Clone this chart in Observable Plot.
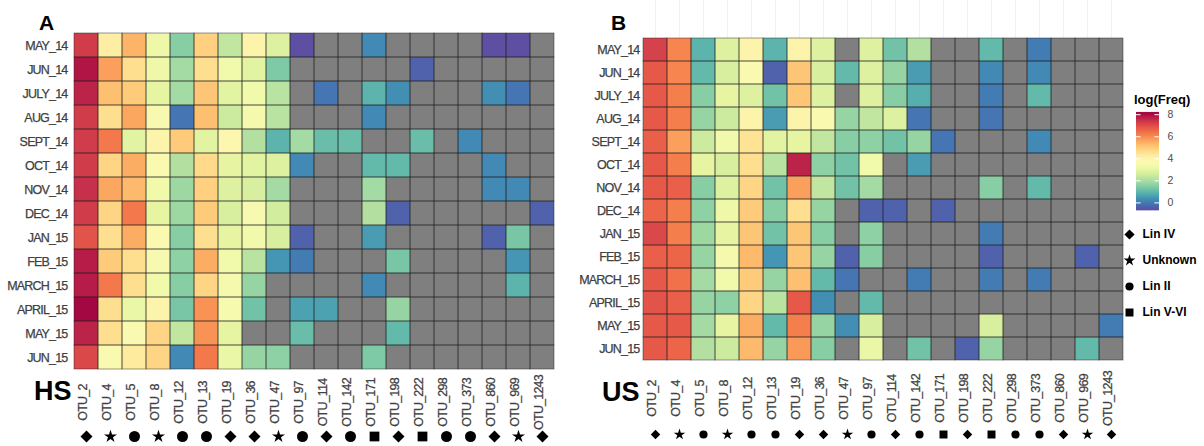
<!DOCTYPE html>
<html><head><meta charset="utf-8">
<script src="https://cdn.jsdelivr.net/npm/d3@7"></script>
<script src="https://cdn.jsdelivr.net/npm/@observablehq/plot@0.6"></script>
<style>
body{margin:0;background:#fff;font-family:"Liberation Sans",Arial,sans-serif;}
#wrap{position:relative;width:1204px;height:446px;overflow:hidden;background:#fff;}
.abs{position:absolute;line-height:1;white-space:nowrap;}
.big{font-weight:bold;color:#000;}
</style></head><body><div id="wrap"></div>
<script>
const months = ["MAY_14","JUN_14","JULY_14","AUG_14","SEPT_14","OCT_14","NOV_14","DEC_14","JAN_15","FEB_15","MARCH_15","APRIL_15","MAY_15","JUN_15"];
const otus = ["OTU_2","OTU_4","OTU_5","OTU_8","OTU_12","OTU_13","OTU_19","OTU_36","OTU_47","OTU_97","OTU_114","OTU_142","OTU_171","OTU_198","OTU_222","OTU_298","OTU_373","OTU_860","OTU_969","OTU_1243"];
const lineage = ["Lin IV","Unknown","Lin II","Unknown","Lin II","Lin II","Lin IV","Lin IV","Unknown","Lin II","Lin IV","Lin II","Lin V-VI","Lin IV","Lin V-VI","Lin II","Lin II","Lin IV","Unknown","Lin IV"];
const lineageOrder = ["Lin IV","Unknown","Lin II","Lin V-VI"];
const legendTicks = [0, 2, 4, 6, 8];

// log(Freq) per month (rows) x OTU (columns); null = absent (grey)
const hsValues = [
  [7.4,4.3,5.5,3.3,1.6,5.0,2.4,4.1,2.9,-0.6,null,null,0.3,null,null,null,null,-0.6,-0.6,null],
  [8.0,5.8,4.7,3.3,2.0,4.7,3.4,3.0,1.5,null,null,null,null,null,-0.3,null,null,null,null,null],
  [7.8,5.3,5.1,3.1,2.0,5.2,3.0,3.4,2.3,null,0.0,null,1.0,0.4,null,null,null,0.4,0.0,null],
  [7.4,4.7,5.7,3.7,0.0,5.3,2.6,3.5,2.3,null,null,null,0.3,null,null,null,null,null,null,null],
  [7.4,6.4,3.0,4.1,5.1,3.0,4.0,2.2,1.0,2.0,1.2,1.2,null,null,1.2,null,0.3,null,null,null],
  [7.4,4.9,5.6,3.8,2.2,4.8,3.1,3.0,2.9,0.3,null,null,1.1,1.1,null,null,null,0.3,null,null],
  [7.6,5.7,5.4,3.4,1.9,5.0,2.9,2.8,2.0,null,null,null,2.0,null,null,null,null,0.3,0.3,null],
  [7.4,4.9,6.4,3.1,1.9,5.1,2.8,3.7,2.7,null,null,null,2.2,-0.3,null,null,null,null,null,-0.3],
  [7.0,4.7,5.6,3.9,1.6,4.7,3.1,3.4,2.8,-0.3,null,null,0.6,null,null,null,null,-0.3,1.4,null],
  [7.9,5.1,4.7,3.7,1.7,5.6,3.4,2.3,0.5,0.1,null,null,null,1.4,null,null,null,null,0.5,null],
  [7.9,6.4,4.7,3.4,1.6,4.9,3.5,1.8,null,null,null,null,0.3,null,null,null,null,null,1.0,null],
  [8.2,4.7,3.2,4.1,1.4,6.0,3.6,1.3,null,0.7,0.7,null,null,1.8,null,null,null,null,null,null],
  [7.8,4.7,3.8,4.9,2.4,6.0,3.1,null,null,1.2,null,null,null,1.1,null,null,null,null,null,null],
  [7.2,3.8,4.4,4.9,0.3,6.4,3.2,1.8,1.7,null,null,null,1.5,null,null,null,null,null,null,null]
];
const usValues = [
  [7.3,6.2,1.0,2.9,4.1,1.0,4.1,2.9,null,2.9,1.3,2.2,null,null,1.1,null,0.1,null,null,null],
  [6.9,6.2,1.1,2.8,3.8,-0.3,5.2,2.8,1.1,2.9,1.8,0.6,null,null,0.3,null,0.3,null,null,null],
  [6.9,6.3,1.6,3.1,2.9,1.3,5.2,2.9,null,2.9,1.6,0.9,null,null,0.1,null,1.1,null,null,null],
  [6.9,6.3,1.8,2.6,4.1,0.6,4.1,3.8,1.8,2.4,2.9,0.0,null,null,0.0,null,null,null,null,null],
  [6.8,5.8,2.6,3.4,4.6,3.0,3.1,2.4,1.6,1.7,1.3,1.8,0.0,null,null,null,0.3,null,null,null],
  [6.9,6.3,3.1,2.8,4.7,2.3,7.8,1.7,1.3,3.4,null,0.6,null,null,null,null,null,null,null,null],
  [6.9,6.8,1.6,2.9,4.9,1.3,5.8,2.4,1.3,2.0,null,null,null,null,1.6,null,1.1,null,null,null],
  [6.7,6.3,1.7,3.3,5.1,1.6,4.7,1.8,null,-0.3,-0.3,null,-0.3,null,null,null,null,null,null,null],
  [7.2,6.3,1.9,3.1,5.2,1.3,5.2,1.6,null,1.7,null,null,null,null,0.1,null,null,null,null,null],
  [6.8,6.7,1.8,3.5,5.4,0.5,5.2,1.8,-0.3,1.6,null,null,null,null,-0.3,null,null,null,-0.3,null],
  [6.9,6.5,2.0,3.4,5.1,1.8,5.3,1.1,0.0,null,null,0.1,null,null,0.1,null,0.1,null,null,null],
  [7.0,6.8,1.8,1.7,4.9,2.3,6.9,0.4,null,1.1,null,null,null,null,null,null,null,null,null,null],
  [6.9,6.9,2.0,3.1,5.6,1.1,6.3,1.8,0.4,2.8,null,null,null,null,2.8,null,null,null,null,0.1],
  [6.9,6.7,2.2,2.6,5.4,1.8,5.9,1.6,null,3.2,null,1.3,null,-0.3,1.8,null,null,null,1.1,null]
];

const colorDomain = [-0.6, 8.3];
const colorOpts = {type: "linear", scheme: "spectral", reverse: true, domain: colorDomain};
const wrap = document.getElementById("wrap");
const FONT = "'Liberation Sans', Arial, sans-serif";
const TICK = {fontSize: 12.5, fill: "#404040"};

function place(node, left, top) {
  node.style.position = "absolute";
  node.style.left = left + "px";
  node.style.top = top + "px";
  wrap.appendChild(node);
}
function label(txt, left, top, size, extra) {
  const d = document.createElement("div");
  d.className = "abs " + (extra || "");
  d.textContent = txt;
  d.style.fontSize = size + "px";
  place(d, left, top);
}

function heatmap(values, o) {
  const cells = [];
  months.forEach((m, i) => otus.forEach((t, j) => cells.push({month: m, otu: t, value: values[i][j]})));
  const marks = [];
  if (o.grid) marks.push(Plot.ruleX(otus, {x: d => d, stroke: "#f1f1f1", strokeWidth: 1, dy: -o.mt}));
  marks.push(
    Plot.cell(cells, {x: "otu", y: "month", fill: "#7f7f7f"}),
    Plot.cell(cells.filter(d => d.value != null), {x: "otu", y: "month", fill: "value"}),
    Plot.cell(cells, {x: "otu", y: "month", fill: "none", stroke: "#222", strokeOpacity: 0.5, strokeWidth: 0.9}),
    Plot.axisY({tickSize: 0, tickPadding: o.pad, label: null, ...TICK}),
    Plot.text(otus, {x: d => d, text: d => d, frameAnchor: "bottom", dy: 32, rotate: -90, ...TICK}),
    Plot.dot(otus, {x: d => d, symbol: (d, i) => lineage[i], r: (d, i) => o.sizes[lineage[i]],
      frameAnchor: "bottom", dy: o.symDy, fill: "black", stroke: "none"})
  );
  const svg = Plot.plot({
    width: o.width, height: 446,
    marginLeft: o.ml, marginRight: o.mr, marginTop: o.mt, marginBottom: 446 - o.mt - o.fh,
    x: {domain: otus, padding: 0, axis: null},
    y: {domain: months, padding: 0},
    r: {type: "identity"},
    color: colorOpts,
    symbol: {domain: lineageOrder, range: ["diamond2", "star", "circle", "square"]},
    style: {fontFamily: FONT, background: "transparent", overflow: "visible", color: "#404040"},
    marks
  });
  svg.querySelectorAll("text").forEach(t => { t.style.letterSpacing = "-0.8px"; t.style.stroke = "#404040"; t.style.strokeWidth = "0.25px"; });
  return svg;
}

place(heatmap(hsValues, {width: 560, ml: 73, mr: 5, mt: 32, fh: 338, pad: 6, symDy: 66,
  sizes: {"Lin IV": 5.4, "Unknown": 4.1, "Lin II": 5.5, "Lin V-VI": 5.5}}), 0, 0);
place(heatmap(usValues, {width: 545, ml: 63, mr: 2, mt: 31, fh: 335, pad: 4, symDy: 68, grid: true,
  sizes: {"Lin IV": 4.3, "Unknown": 3.6, "Lin II": 4.1, "Lin V-VI": 4.5}}), 580, 0);

// colour bar legend
const legendSteps = d3.range(colorDomain[0], 8.2, 0.02);
place(Plot.plot({
  width: 79, height: 130, marginLeft: 11, marginRight: 45, marginTop: 21, marginBottom: 12,
  x: {domain: [0, 1], axis: null},
  y: {domain: [colorDomain[0], 8.2]},
  color: colorOpts,
  style: {fontFamily: FONT, background: "transparent", overflow: "visible", color: "#4d4d4d"},
  marks: [
    Plot.ruleY(legendSteps, {y: d => d, stroke: d => d, strokeWidth: 1.6}),
    Plot.ruleY(legendTicks, {y: d => d, x1: 0, x2: 0.2, stroke: "white", strokeWidth: 1}),
    Plot.ruleY(legendTicks, {y: d => d, x1: 0.8, x2: 1, stroke: "white", strokeWidth: 1}),
    Plot.axisY(legendTicks, {anchor: "right", tickSize: 0, tickPadding: 8, label: null, fontSize: 10.5, fill: "#4d4d4d"})
  ]
}), 1125, 91);
label("log(Freq)", 1134, 93, 13, "big");

// shape legend
const legendSizes = {"Lin IV": 4.6, "Unknown": 3.7, "Lin II": 4.1, "Lin V-VI": 4.5};
place(Plot.plot({
  width: 79, height: 90, marginLeft: 0, marginRight: 0, marginTop: 5, marginBottom: 5,
  y: {domain: lineageOrder, padding: 0, axis: null},
  r: {type: "identity"},
  symbol: {domain: lineageOrder, range: ["diamond2", "star", "circle", "square"]},
  style: {fontFamily: FONT, background: "transparent", overflow: "visible"},
  marks: [
    Plot.dot(lineageOrder, {y: d => d, symbol: d => d, r: d => legendSizes[d], frameAnchor: "left", dx: 4, fill: "black", stroke: "none"}),
    Plot.text(lineageOrder, {y: d => d, text: d => d, frameAnchor: "left", dx: 17, textAnchor: "start", fontSize: 12, fontWeight: "bold", fill: "black"})
  ]
}), 1125, 228);

label("A", 39, 12, 21, "big");
label("B", 611, 12, 21, "big");
label("HS", 34, 378, 27, "big");
label("US", 602, 379, 27, "big");
</script></body></html>
